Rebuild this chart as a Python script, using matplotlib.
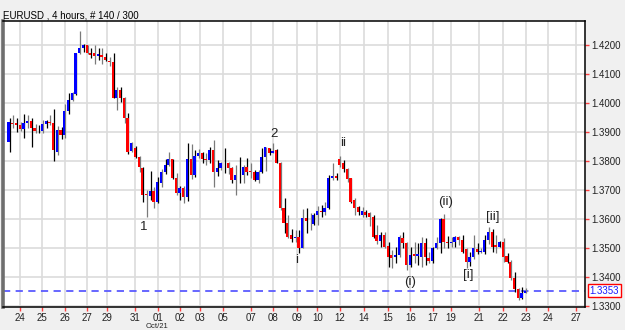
import numpy as np
import matplotlib
matplotlib.use("Agg")
import matplotlib.pyplot as plt
import matplotlib.transforms as mtransforms

plt.rcParams['font.family'] = ['Liberation Sans', 'DejaVu Sans']

# EURUSD 4h candles (open, high, low, close)
opens = [
    1.3864, 1.3931, 1.3929, 1.3923, 1.3908, 1.3931, 1.3938, 1.3912, 1.3903, 1.3902,
    1.3926, 1.3935, 1.3931, 1.3830, 1.3906, 1.3889, 1.3971, 1.4009, 1.4029, 1.4170,
    1.4187, 1.4198, 1.4170, 1.4170, 1.4161, 1.4164, 1.4158, 1.4144, 1.4139, 1.4017,
    1.4044, 1.4015, 1.3948, 1.3834, 1.3845, 1.3814, 1.3774, 1.3687, 1.3679, 1.3697,
    1.3659, 1.3723, 1.3763, 1.3786, 1.3805, 1.3740, 1.3690, 1.3705, 1.3677, 1.3805,
    1.3751, 1.3816, 1.3826, 1.3806, 1.3803, 1.3837, 1.3763, 1.3774, 1.3791, 1.3791,
    1.3774, 1.3734, 1.3751, 1.3751, 1.3780, 1.3763, 1.3763, 1.3734, 1.3763, 1.3812,
    1.3843, 1.3828, 1.3837, 1.3794, 1.3637, 1.3587, 1.3545, 1.3533, 1.3539, 1.3501,
    1.3602, 1.3594, 1.3583, 1.3614, 1.3627, 1.3625, 1.3637, 1.3740, 1.3748, 1.3805,
    1.3791, 1.3771, 1.3740, 1.3665, 1.3640, 1.3614, 1.3625, 1.3620, 1.3608, 1.3545,
    1.3525, 1.3545, 1.3507, 1.3476, 1.3470, 1.3476, 1.3536, 1.3516, 1.3442, 1.3479,
    1.3472, 1.3470, 1.3516, 1.3465, 1.3456, 1.3499, 1.3516, 1.3599, 1.3522, 1.3516,
    1.3522, 1.3539, 1.3528, 1.3496, 1.3453, 1.3470, 1.3496, 1.3487, 1.3487, 1.3528,
    1.3556, 1.3510, 1.3505, 1.3519, 1.3473, 1.3453, 1.3396, 1.3358, 1.3327, 1.3346,
]
highs = [
    1.3946, 1.3958, 1.3946, 1.3935, 1.3960, 1.3958, 1.3946, 1.3927, 1.3923, 1.3940,
    1.3940, 1.3958, 1.3977, 1.3921, 1.3917, 1.3995, 1.4034, 1.4038, 1.4172, 1.4246,
    1.4201, 1.4200, 1.4187, 1.4198, 1.4187, 1.4187, 1.4170, 1.4158, 1.4170, 1.4055,
    1.4055, 1.4021, 1.3963, 1.3866, 1.3852, 1.3818, 1.3777, 1.3700, 1.3766, 1.3711,
    1.3745, 1.3771, 1.3805, 1.3831, 1.3805, 1.3757, 1.3713, 1.3713, 1.3861, 1.3858,
    1.3837, 1.3840, 1.3831, 1.3826, 1.3849, 1.3872, 1.3803, 1.3797, 1.3843, 1.3797,
    1.3780, 1.3786, 1.3814, 1.3786, 1.3809, 1.3791, 1.3768, 1.3768, 1.3843, 1.3846,
    1.3845, 1.3860, 1.3840, 1.3797, 1.3671, 1.3614, 1.3564, 1.3562, 1.3562, 1.3633,
    1.3637, 1.3619, 1.3619, 1.3645, 1.3648, 1.3659, 1.3751, 1.3791, 1.3757, 1.3817,
    1.3803, 1.3774, 1.3740, 1.3671, 1.3645, 1.3642, 1.3631, 1.3625, 1.3614, 1.3579,
    1.3556, 1.3556, 1.3522, 1.3493, 1.3505, 1.3545, 1.3556, 1.3522, 1.3505, 1.3522,
    1.3516, 1.3539, 1.3533, 1.3487, 1.3505, 1.3539, 1.3602, 1.3617, 1.3541, 1.3539,
    1.3541, 1.3541, 1.3545, 1.3499, 1.3487, 1.3545, 1.3516, 1.3499, 1.3545, 1.3573,
    1.3564, 1.3545, 1.3525, 1.3536, 1.3484, 1.3459, 1.3419, 1.3362, 1.3365, 1.3362,
]
lows = [
    1.3829, 1.3912, 1.3898, 1.3902, 1.3877, 1.3912, 1.3849, 1.3895, 1.3895, 1.3895,
    1.3912, 1.3923, 1.3799, 1.3820, 1.3875, 1.3878, 1.3960, 1.4005, 1.4026, 1.4168,
    1.4175, 1.4166, 1.4153, 1.4132, 1.4147, 1.4132, 1.4143, 1.4127, 1.4015, 1.3975,
    1.4003, 1.3929, 1.3825, 1.3831, 1.3808, 1.3760, 1.3659, 1.3608, 1.3665, 1.3637,
    1.3654, 1.3709, 1.3755, 1.3782, 1.3736, 1.3682, 1.3665, 1.3656, 1.3663, 1.3736,
    1.3745, 1.3810, 1.3791, 1.3786, 1.3791, 1.3711, 1.3748, 1.3768, 1.3757, 1.3754,
    1.3723, 1.3682, 1.3723, 1.3723, 1.3751, 1.3740, 1.3732, 1.3725, 1.3759, 1.3766,
    1.3820, 1.3826, 1.3791, 1.3631, 1.3551, 1.3533, 1.3522, 1.3522, 1.3484, 1.3499,
    1.3551, 1.3562, 1.3579, 1.3579, 1.3608, 1.3614, 1.3633, 1.3734, 1.3734, 1.3780,
    1.3763, 1.3728, 1.3656, 1.3614, 1.3614, 1.3608, 1.3608, 1.3576, 1.3533, 1.3514,
    1.3504, 1.3499, 1.3436, 1.3430, 1.3448, 1.3470, 1.3499, 1.3424, 1.3436, 1.3448,
    1.3442, 1.3436, 1.3442, 1.3448, 1.3448, 1.3496, 1.3482, 1.3499, 1.3499, 1.3505,
    1.3505, 1.3510, 1.3484, 1.3430, 1.3438, 1.3461, 1.3479, 1.3482, 1.3479, 1.3514,
    1.3487, 1.3484, 1.3502, 1.3453, 1.3450, 1.3390, 1.3350, 1.3321, 1.3324, 1.3344,
]
closes = [
    1.3932, 1.3926, 1.3923, 1.3909, 1.3931, 1.3938, 1.3912, 1.3903, 1.3902, 1.3926,
    1.3937, 1.3931, 1.3837, 1.3906, 1.3889, 1.3971, 1.4009, 1.4032, 1.4170, 1.4187,
    1.4198, 1.4170, 1.4164, 1.4161, 1.4166, 1.4158, 1.4147, 1.4139, 1.4017, 1.4044,
    1.4015, 1.3948, 1.3831, 1.3860, 1.3814, 1.3777, 1.3682, 1.3682, 1.3697, 1.3659,
    1.3728, 1.3763, 1.3786, 1.3805, 1.3740, 1.3690, 1.3705, 1.3677, 1.3805, 1.3751,
    1.3816, 1.3826, 1.3805, 1.3803, 1.3837, 1.3763, 1.3774, 1.3791, 1.3793, 1.3774,
    1.3734, 1.3751, 1.3751, 1.3780, 1.3763, 1.3762, 1.3734, 1.3763, 1.3812, 1.3846,
    1.3826, 1.3835, 1.3794, 1.3637, 1.3585, 1.3539, 1.3530, 1.3539, 1.3501, 1.3602,
    1.3594, 1.3593, 1.3614, 1.3627, 1.3625, 1.3637, 1.3740, 1.3748, 1.3742, 1.3786,
    1.3771, 1.3736, 1.3659, 1.3637, 1.3625, 1.3628, 1.3614, 1.3608, 1.3539, 1.3525,
    1.3545, 1.3505, 1.3468, 1.3465, 1.3476, 1.3539, 1.3516, 1.3442, 1.3476, 1.3472,
    1.3479, 1.3516, 1.3470, 1.3456, 1.3499, 1.3516, 1.3599, 1.3522, 1.3516, 1.3522,
    1.3539, 1.3528, 1.3487, 1.3453, 1.3470, 1.3499, 1.3487, 1.3488, 1.3528, 1.3554,
    1.3505, 1.3502, 1.3522, 1.3468, 1.3453, 1.3396, 1.3358, 1.3327, 1.3346, 1.3353,
]

day_labels = ["24", "25", "26", "27", "29", "31", "01", "02", "03", "05", "07", "08", "09",
              "10", "12", "14", "15", "16", "17", "19", "21", "22", "23", "24", "27"]
day_pos = [3, 9, 15, 21, 26.5, 34, 40, 46, 51.5, 57.5, 65, 71, 77.5,
           83, 89, 95.5, 102, 108, 114, 119, 126.5, 133, 139, 145, 152.5]

price_ticks = [1.33, 1.34, 1.35, 1.36, 1.37, 1.38, 1.39, 1.40, 1.41, 1.42]
last_price = 1.3353

wave_labels = ["1", "2", "i", "ii", "(i)", "(ii)", "[i]", "[ii]"]
wave_x = [36.3, 71.3, 77.3, 90.0, 107.9, 117.4, 123.6, 130.3]
wave_y = [1.3572, 1.3892, 1.3459, 1.3861, 1.3383, 1.3658, 1.3407, 1.3607]

W, H = 625, 330
fig = plt.figure(figsize=(W / 100, H / 100), dpi=100, facecolor="#f0f0f0")
ax = fig.add_axes([3 / W, 23 / H, 582 / W, 286 / H], facecolor="white")

o = np.array(opens)
c = np.array(closes)
hi = np.array(highs)
lo = np.array(lows)
x = np.arange(len(o))

# grid
for p in price_ticks:
    ax.axhline(p, color="#dcdcdc", lw=1.2, zorder=0)
for d in day_pos:
    ax.axvline(d, color="#dcdcdc", lw=1.2, zorder=0)

# candles
wick_cols = ["#000000" if i % 2 == 0 else "#7a7a7a" for i in x]
ax.vlines(x + 0.15, lo, hi, colors=wick_cols, lw=0.9, zorder=2)
body_col = np.where(c >= o, "#0000ff", "#ff0000")
body_h = np.maximum(np.abs(c - o), 0.00012)
ax.bar(x - 0.1, body_h, bottom=np.minimum(o, c), width=0.6, color=body_col,
       linewidth=0, zorder=3)

# last price line
ax.axhline(last_price, color="#5a5aff", lw=1.3, ls=(0, (4, 3)), zorder=1)
trans = mtransforms.blended_transform_factory(ax.transAxes, ax.transData)
ax.text(1.008, last_price, f"{last_price:.4f}", transform=trans, ha="left", va="center",
        fontsize=7, color="#1a1aff", zorder=5,
        bbox=dict(facecolor="white", edgecolor="#ff0000", lw=1, pad=1.2), clip_on=False)

# wave counts
for lab, wx, wy in zip(wave_labels, wave_x, wave_y):
    ax.text(wx, wy, lab, ha="center", va="center", fontsize=9.5, color="#222222")

ax.set_xlim(-1.6, 155.0)
ax.set_ylim(1.3297, 1.4281)

ax.yaxis.tick_right()
ax.set_yticks(price_ticks)
ax.set_yticklabels([f"{p:.4f}" for p in price_ticks])
ax.set_xticks(day_pos)
ax.set_xticklabels(day_labels)
ax.tick_params(axis="both", length=3, width=1, color="#ff4040", labelsize=7,
               labelcolor="#222222", pad=1.5)

for side in ["top", "right", "bottom"]:
    ax.spines[side].set_color("#000000")
    ax.spines[side].set_linewidth(1.1)
ax.spines["left"].set_color("#6e6e6e")
ax.spines["left"].set_linewidth(2.6)

fig.text(3 / W, 1 - 15 / H, "EURUSD , 4 hours, # 140 / 300", fontsize=7,
         ha="left", va="center", color="#000000")
fig.text(157 / W, 1 - 329.5 / H, "Oct/21", fontsize=5.5, ha="center", va="bottom",
         color="#222222")

fig.savefig("out.png", dpi=100, facecolor=fig.get_facecolor())
